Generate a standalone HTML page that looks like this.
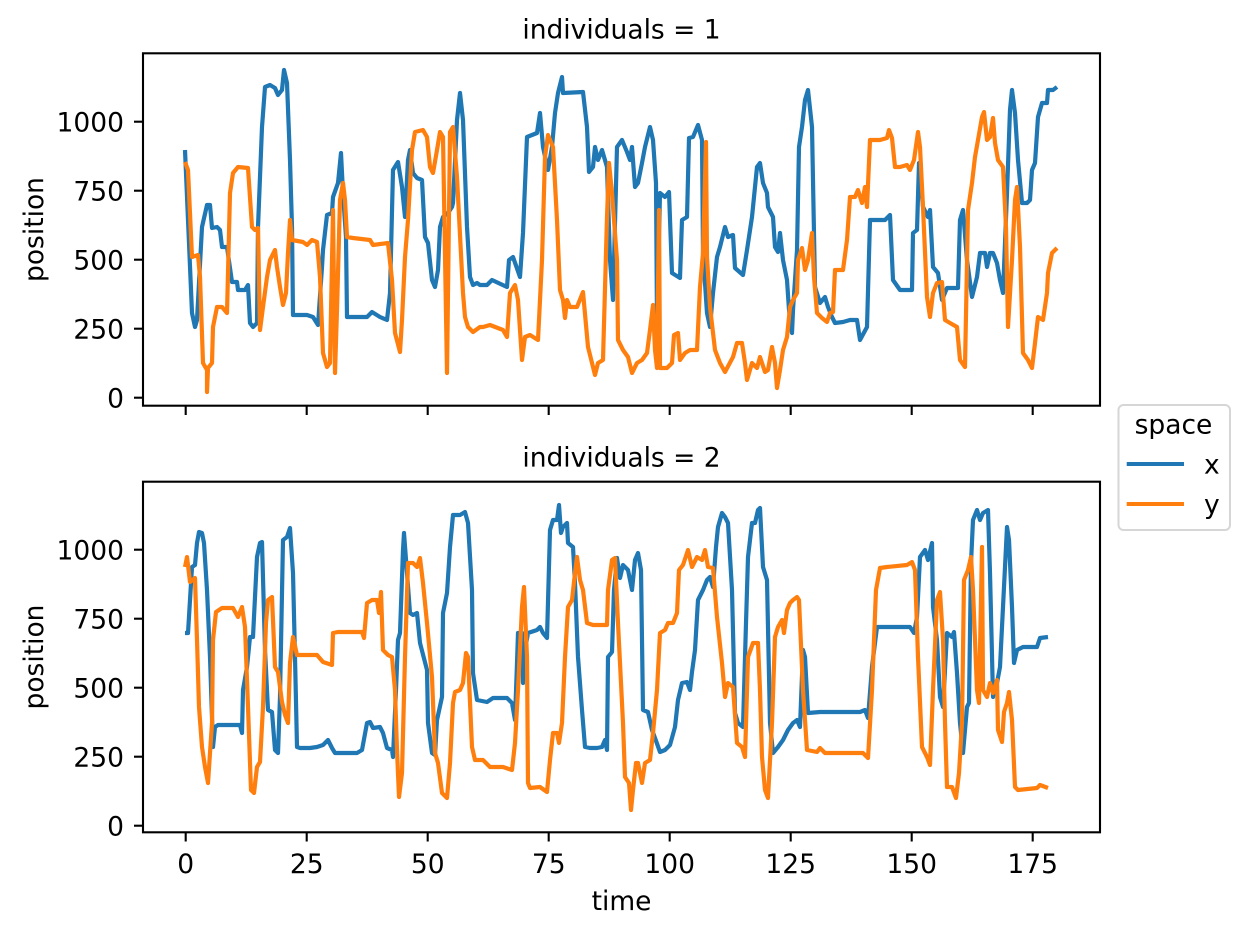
<!DOCTYPE html>
<html><head><meta charset="utf-8"><style>
html,body{margin:0;padding:0;background:#fff;}
svg{display:block;}
text{font-family:"DejaVu Sans","Liberation Sans",sans-serif;font-size:26.5px;fill:#000;}
.b{fill:none;stroke:#1f77b4;stroke-width:4.2;stroke-linejoin:round;stroke-linecap:butt;}
.o{fill:none;stroke:#ff7f0e;stroke-width:4.2;stroke-linejoin:round;stroke-linecap:butt;}
.ax{fill:none;stroke:#000;stroke-width:2.1;}
.tk{stroke:#000;stroke-width:2.1;}
</style></head><body>
<svg width="1243" height="934" viewBox="0 0 1243 934" xmlns="http://www.w3.org/2000/svg">
<rect width="1243" height="934" fill="#fff"/>

<!-- TOP PANEL -->
<text x="621.5" y="38.3" text-anchor="middle">individuals = 1</text>
<polyline class="b" points="185,150 192,313 195,327 197,320 202,227 207,205 210,205 212,228 217,227 220,230 222,247 227,247 232,282 237,282 238,290 245,290 248,285 250,323 253,327 257,323 258,227 262,127 265,87 270,85 275,88 278,95 282,90 284,70 287,83 290,160 292,227 293,315 307,315 313,317 318,325 322,267 323,250 327,215 332,213 333,197 338,183 341,153 343,193 346,237 347,317 367,317 372,312 380,317 387,320 390,293 393,170 398,162 402,187 405,217 408,160 410,150 413,173 417,178 422,180 425,237 428,243 432,280 435,287 438,270 440,227 443,217 448,213 452,207 453,203 457,120 460,93 463,120 467,227 470,277 473,285 477,283 480,285 487,285 492,280 507,287 509,260 513,257 520,277 523,233 527,137 537,133 540,113 543,147 548,170 552,147 555,113 558,93 562,77 563,93 583,92 587,127 589,172 593,167 595,147 598,160 602,150 607,167 610,260 613,300 617,147 622,140 627,152 630,160 632,147 635,187 638,183 642,163 645,147 650,127 653,140 656,183 657,323 660,193 665,197 669,192 672,273 680,278 682,220 687,217 689,138 693,137 698,125 702,140 703,253 707,313 710,327 713,293 717,257 720,247 725,227 728,237 733,235 735,268 743,275 747,250 752,217 757,167 760,163 763,183 767,193 768,207 773,217 775,247 778,252 780,233 783,260 787,280 789,310 792,333 793,310 797,250 799,147 802,127 805,100 808,90 812,127 815,287 820,303 825,297 828,307 832,317 835,323 843,322 850,320 857,320 860,340 867,327 870,220 885,220 890,215 893,280 900,290 912,290 913,233 917,230 919,163 923,207 928,217 930,210 933,267 938,273 942,300 947,288 958,288 960,220 963,210 967,260 972,297 977,277 980,253 985,253 987,267 990,253 993,253 997,263 1000,280 1003,293 1007,193 1010,110 1012,90 1015,113 1018,160 1022,203 1027,203 1030,200 1032,170 1035,163 1038,117 1042,103 1047,103 1048,90 1053,90 1057,87"/>
<polyline class="o" points="185,162 188,170 192,257 198,255 200,277 203,363 207,370 207,392 208,368 212,363 213,327 217,307 222,307 227,313 230,193 233,173 238,167 248,168 252,227 255,230 258,228 260,330 263,307 267,277 270,260 275,250 277,267 280,287 283,305 286,293 288,253 290,220 292,240 303,242 307,245 312,240 317,242 320,277 323,353 327,367 330,363 333,210 335,373 337,310 340,200 343,183 345,200 347,237 353,238 370,240 373,245 388,243 392,280 395,333 400,352 402,320 405,257 408,220 412,150 415,132 423,130 427,137 430,167 433,173 437,150 440,132 443,137 447,373 450,132 453,127 457,177 463,293 465,317 468,327 473,332 480,327 483,327 490,325 503,330 507,337 510,293 515,285 518,300 522,360 525,337 530,335 538,340 542,260 545,157 548,135 553,147 557,220 560,290 563,300 565,318 567,300 570,307 577,307 583,292 588,347 592,363 595,375 598,363 603,360 607,217 609,163 612,193 617,260 618,340 623,350 628,357 632,373 637,363 642,360 647,353 650,330 653,305 655,350 657,368 659,210 660,368 667,368 672,363 674,335 678,333 680,360 685,353 690,350 697,350 700,287 703,253 706,142 707,257 710,307 715,350 720,363 725,372 733,357 737,343 742,343 745,363 747,380 752,363 757,368 760,357 765,372 768,370 772,347 775,363 777,388 780,370 783,350 787,337 790,307 793,300 797,293 798,260 802,248 805,270 808,260 812,233 814,277 817,313 822,318 827,322 830,313 833,312 835,270 843,270 847,240 850,197 855,197 858,190 862,203 865,187 867,207 870,140 880,140 887,138 889,130 892,138 895,167 900,167 907,165 910,170 914,160 918,132 920,147 923,207 927,297 930,317 933,293 937,283 942,282 945,320 950,323 957,327 960,360 965,367 968,210 972,183 975,157 978,140 982,117 984,112 987,140 990,137 993,118 995,143 998,160 1003,167 1006,227 1008,327 1012,260 1015,200 1017,187 1020,247 1023,353 1028,360 1032,368 1035,343 1038,317 1043,320 1047,293 1048,273 1052,253 1057,248"/>
<rect class="ax" x="143" y="53.3" width="957" height="352.4"/>
<g class="tk">
<line x1="134" y1="397.7" x2="143" y2="397.7"/>
<line x1="134" y1="328.7" x2="143" y2="328.7"/>
<line x1="134" y1="259.7" x2="143" y2="259.7"/>
<line x1="134" y1="190.7" x2="143" y2="190.7"/>
<line x1="134" y1="121.7" x2="143" y2="121.7"/>
</g>
<g text-anchor="end">
<text x="124" y="407.4">0</text>
<text x="124" y="338.4">250</text>
<text x="124" y="269.4">500</text>
<text x="124" y="200.4">750</text>
<text x="124" y="131.4">1000</text>
</g>
<g class="tk">
<line x1="185.7" y1="405.7" x2="185.7" y2="415"/>
<line x1="306.7" y1="405.7" x2="306.7" y2="415"/>
<line x1="427.7" y1="405.7" x2="427.7" y2="415"/>
<line x1="548.7" y1="405.7" x2="548.7" y2="415"/>
<line x1="669.7" y1="405.7" x2="669.7" y2="415"/>
<line x1="790.7" y1="405.7" x2="790.7" y2="415"/>
<line x1="911.7" y1="405.7" x2="911.7" y2="415"/>
<line x1="1032.7" y1="405.7" x2="1032.7" y2="415"/>
</g>
<text x="43" y="229.5" text-anchor="middle" transform="rotate(-90 43 229.5)">position</text>

<!-- BOTTOM PANEL -->
<text x="621.5" y="466.7" text-anchor="middle">individuals = 2</text>
<polyline class="b" points="185,633 188,633 192,567 195,565 197,543 199,532 202,533 204,543 207,590 210,657 213,747 215,727 218,725 240,725 242,733 243,690 247,667 250,637 253,637 257,557 260,543 262,542 265,650 268,710 272,712 275,750 278,753 280,697 283,540 287,537 290,528 293,573 295,657 297,747 300,748 310,748 317,747 323,745 328,740 332,748 335,753 347,753 357,753 362,750 367,723 370,722 373,728 380,727 383,733 387,748 392,750 393,757 396,690 398,640 400,633 403,550 404,533 407,573 410,613 413,615 417,613 420,643 427,670 428,723 432,753 435,755 437,720 442,697 443,613 447,593 450,547 453,515 460,515 465,512 468,523 472,590 473,673 477,700 487,702 493,698 507,698 512,703 515,720 517,663 518,633 522,633 523,683 525,650 528,633 537,630 540,627 543,633 547,638 550,530 553,520 557,520 559,505 561,533 563,527 567,523 568,543 573,547 575,583 578,657 582,710 585,747 590,748 597,748 602,747 605,740 607,750 608,657 612,652 614,590 617,558 620,578 623,565 628,570 632,590 635,560 638,553 641,570 643,710 648,712 652,730 655,738 660,752 665,750 670,745 675,727 678,700 682,683 687,682 690,690 692,672 695,650 698,600 703,590 707,580 710,577 713,587 716,547 718,527 722,513 725,517 728,523 732,590 735,713 738,723 743,727 746,623 748,557 752,523 755,523 758,510 760,508 763,567 767,580 770,723 773,753 778,747 783,740 788,730 793,723 797,720 800,727 803,650 805,657 808,713 820,712 837,712 860,712 865,710 868,718 872,667 877,627 887,627 910,627 914,633 917,617 920,557 925,550 928,560 932,543 933,607 937,640 940,697 943,707 947,633 952,637 954,632 957,673 960,723 963,753 967,707 969,703 971,563 973,520 977,510 980,520 983,513 988,510 990,573 993,697 997,683 1000,667 1003,607 1007,527 1009,540 1012,607 1014,663 1017,650 1023,647 1037,647 1040,638 1048,637"/>
<polyline class="o" points="185,567 187,557 190,582 195,578 197,640 199,707 202,747 205,767 208,783 212,723 213,640 216,612 222,608 233,608 238,617 242,607 245,627 248,707 251,790 254,793 257,767 260,762 263,707 266,623 268,600 272,597 275,667 278,672 282,702 285,715 288,723 290,663 293,637 297,655 307,655 317,655 323,662 332,665 333,633 338,632 353,632 362,632 364,638 367,603 372,600 377,600 379,613 381,592 383,650 388,655 392,657 395,690 397,750 399,797 402,773 405,657 408,563 413,563 417,567 420,558 423,583 427,623 432,677 435,753 438,763 442,793 447,798 450,763 453,703 455,692 460,690 463,683 466,653 468,657 472,747 475,760 483,760 490,767 503,767 512,770 515,743 518,690 522,607 524,587 527,657 528,783 530,788 540,787 547,792 550,760 553,733 557,733 559,743 562,723 565,657 568,607 572,600 575,573 577,557 580,580 583,590 587,623 593,625 607,625 608,590 612,560 615,558 618,623 623,723 625,777 629,783 631,810 633,790 636,763 638,763 642,783 645,763 650,760 653,733 657,690 660,633 665,630 668,623 673,623 677,613 679,570 683,565 688,550 692,567 697,557 702,560 705,550 708,567 713,568 717,617 722,663 725,697 728,683 733,687 737,743 742,747 745,757 748,657 753,643 758,643 760,690 762,757 765,790 768,798 772,723 775,637 778,627 782,620 784,633 787,610 790,603 793,600 797,597 799,600 803,690 807,750 817,752 820,748 825,753 843,753 863,753 868,758 872,690 876,590 880,568 887,567 907,565 912,562 915,570 918,657 922,747 927,757 930,765 933,690 937,600 940,592 943,640 945,723 947,787 952,787 956,798 959,773 962,723 964,580 968,570 971,557 973,590 977,690 979,703 982,547 983,690 987,697 990,683 993,693 997,680 998,730 1002,742 1004,712 1007,703 1009,692 1012,720 1015,787 1018,790 1037,788 1040,785 1048,788"/>
<rect class="ax" x="143" y="481.7" width="957" height="350.6"/>
<g class="tk">
<line x1="134" y1="825.7" x2="143" y2="825.7"/>
<line x1="134" y1="756.7" x2="143" y2="756.7"/>
<line x1="134" y1="687.7" x2="143" y2="687.7"/>
<line x1="134" y1="618.7" x2="143" y2="618.7"/>
<line x1="134" y1="549.7" x2="143" y2="549.7"/>
</g>
<g text-anchor="end">
<text x="124" y="835.4">0</text>
<text x="124" y="766.4">250</text>
<text x="124" y="697.4">500</text>
<text x="124" y="628.4">750</text>
<text x="124" y="559.4">1000</text>
</g>
<g class="tk">
<line x1="185.7" y1="832.3" x2="185.7" y2="841.5"/>
<line x1="306.7" y1="832.3" x2="306.7" y2="841.5"/>
<line x1="427.7" y1="832.3" x2="427.7" y2="841.5"/>
<line x1="548.7" y1="832.3" x2="548.7" y2="841.5"/>
<line x1="669.7" y1="832.3" x2="669.7" y2="841.5"/>
<line x1="790.7" y1="832.3" x2="790.7" y2="841.5"/>
<line x1="911.7" y1="832.3" x2="911.7" y2="841.5"/>
<line x1="1032.7" y1="832.3" x2="1032.7" y2="841.5"/>
</g>
<g text-anchor="middle">
<text x="185.7" y="873">0</text>
<text x="306.7" y="873">25</text>
<text x="427.7" y="873">50</text>
<text x="548.7" y="873">75</text>
<text x="669.7" y="873">100</text>
<text x="790.7" y="873">125</text>
<text x="911.7" y="873">150</text>
<text x="1032.7" y="873">175</text>
<text x="621.5" y="910">time</text>
</g>
<text x="43" y="657" text-anchor="middle" transform="rotate(-90 43 657)">position</text>

<!-- LEGEND -->
<rect x="1118.5" y="405" width="111.5" height="125" rx="5" ry="5" fill="#fff" fill-opacity="0.8" stroke="#d6d6d6" stroke-width="2"/>
<text x="1173.5" y="433.3" text-anchor="middle">space</text>
<line x1="1126.7" y1="464" x2="1184" y2="464" stroke="#1f77b4" stroke-width="4"/>
<text x="1204" y="473.3">x</text>
<line x1="1126.7" y1="504" x2="1184" y2="504" stroke="#ff7f0e" stroke-width="4"/>
<text x="1204" y="513.3">y</text>
</svg>
</body></html>
